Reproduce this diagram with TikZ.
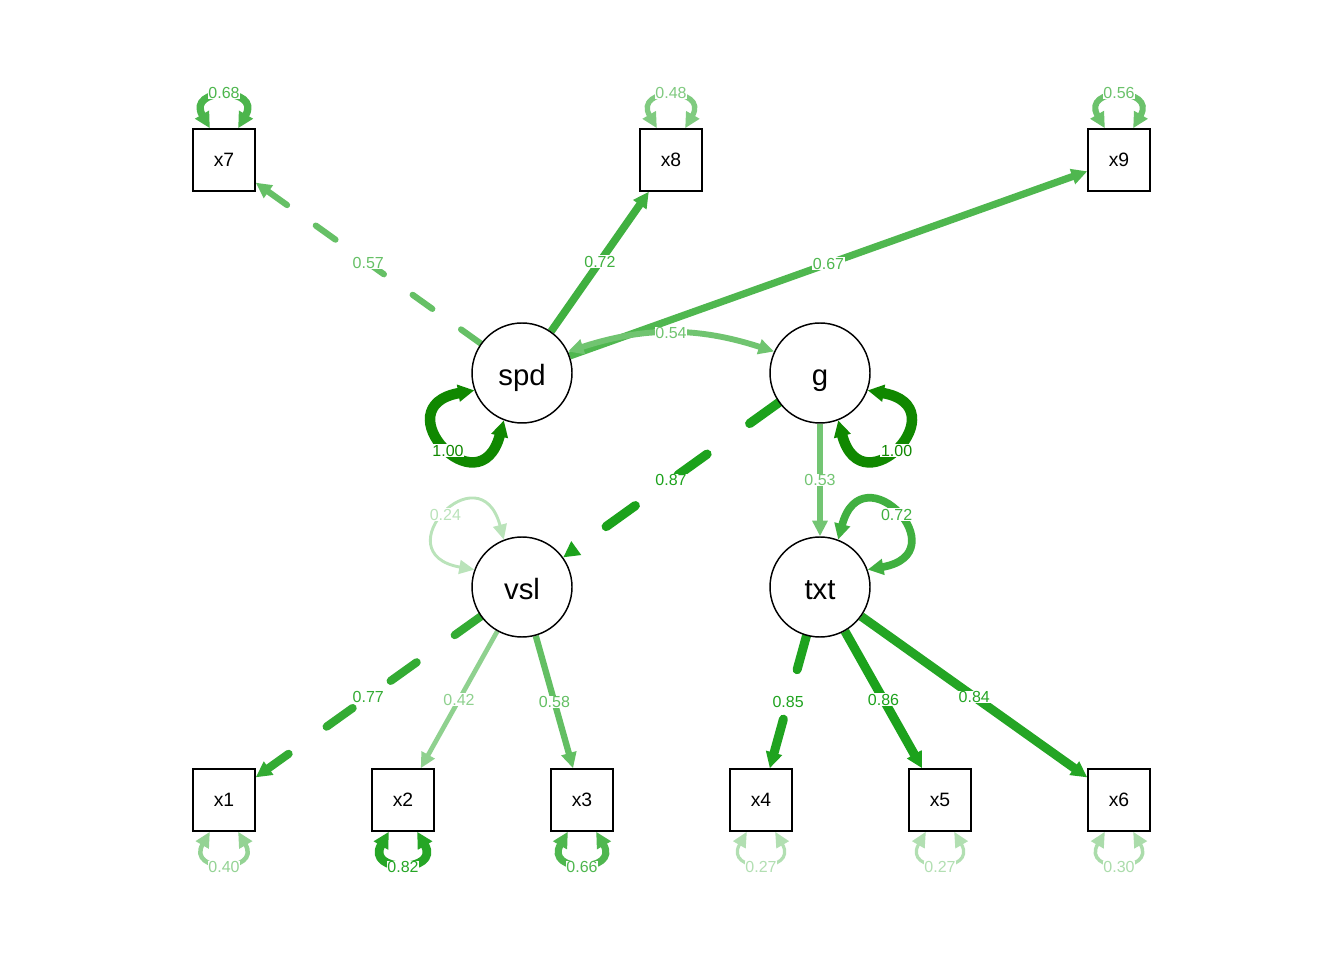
\documentclass[tikz,border=0pt]{standalone}
\usepackage{fontspec}
\setmainfont{Liberation Sans}
\usetikzlibrary{arrows.meta,backgrounds}
\definecolor{pg}{RGB}{0,150,0}
\definecolor{pgd}{RGB}{16,136,0}
\begin{document}
\begin{tikzpicture}[
  x=0.75pt, y=0.75pt,
  latent/.style = {shape=circle, draw, line width=1.1pt, fill=white, minimum size=75pt,
    inner sep=0pt, text height=19.5pt, text depth=0pt, font=\fontsize{22}{24}\selectfont},
  manifest/.style = {shape=rectangle, draw, line width=1.1pt, fill=white, minimum size=46.5pt,
    inner sep=0pt, font=\fontsize{14.5}{16}\selectfont},
  lab/.style = {fill=white, inner sep=0.5pt, font=\fontsize{12}{12}\selectfont},
  wt/.code = {%
    \pgfmathtruncatemacro\wpct{min(100,100*#1+3)}%
    \pgfmathsetlengthmacro\wlw{(0.5+10*#1)*0.75pt}%
    \pgfmathsetlengthmacro\won{3.9*\wlw}%
    \pgfmathsetlengthmacro\woff{5.7*\wlw}%
    \edef\semstyle{\noexpand\tikzset{line width=\wlw, color=pg!\wpct!white}}\semstyle},
  dsh/.code = {\edef\semdash{\noexpand\tikzset{line cap=round,
    dash pattern=on \won\space off \woff}}\semdash},
  >={Triangle[length=11pt 0.15, width=9.5pt 0.35]}
]
  \useasboundingbox (0,0) rectangle (1344,960);

  % latent variables
  \node[latent] (spd) at (522,587) {spd};
  \node[latent] (g)   at (820,587) {g};
  \node[latent] (vsl) at (522,373) {vsl};
  \node[latent] (txt) at (820,373) {txt};

  % indicators
  \node[manifest] (x7) at (224,800)  {x7};
  \node[manifest] (x8) at (671,800)  {x8};
  \node[manifest] (x9) at (1119,800) {x9};
  \node[manifest] (x1) at (224,160)  {x1};
  \node[manifest] (x2) at (403,160)  {x2};
  \node[manifest] (x3) at (582,160)  {x3};
  \node[manifest] (x4) at (761,160)  {x4};
  \node[manifest] (x5) at (940,160)  {x5};
  \node[manifest] (x6) at (1119,160) {x6};

  \begin{scope}[on background layer]
    % loadings
    \draw[->, wt=0.57, dsh] (spd) -- node[lab] {0.57} (x7);
    \draw[->, wt=0.72] (spd) -- node[lab] {0.72} (x8);
    \draw[->, wt=0.67] (spd) -- node[lab] {0.67} (x9);
    \draw[<->, wt=0.54] (spd.25) to[bend left=18] node[lab] {0.54} (g.155);
    \draw[->, wt=0.87, dsh] (g) -- node[lab] {0.87} (vsl);
    \draw[->, wt=0.53] (g) -- node[lab] {0.53} (txt);
    \draw[->, wt=0.77, dsh] (vsl) -- node[lab] {0.77} (x1);
    \draw[->, wt=0.42] (vsl) -- node[lab] {0.42} (x2);
    \draw[->, wt=0.58] (vsl) -- node[lab] {0.58} (x3);
    \draw[->, wt=0.85, dsh] (txt) -- node[lab] {0.85} (x4);
    \draw[->, wt=0.86] (txt) -- node[lab] {0.86} (x5);
    \draw[->, wt=0.84] (txt) -- node[lab] {0.84} (x6);

    % latent variances
    \draw[<->, wt=1.00, color=pgd] (spd.200) to[out=190, in=255, looseness=5.7]
      node[lab, xshift=2pt, yshift=-4pt] {1.00} (spd.249);
    \draw[<->, wt=1.00, color=pgd] (g.340) to[out=350, in=285, looseness=5.7]
      node[lab, yshift=-4pt] {1.00} (g.291);
    \draw[<->, wt=0.24] (vsl.160) to[out=170, in=105, looseness=5.7] node[lab] {0.24} (vsl.111);
    \draw[<->, wt=0.72] (txt.20) to[out=10, in=75, looseness=5.7] node[lab] {0.72} (txt.69);

    % residual variances
    \draw[<->, wt=0.68] (x7.114) to[out=120, in=60, looseness=4.35] node[lab, yshift=3pt] {0.68} (x7.66);
    \draw[<->, wt=0.48] (x8.114) to[out=120, in=60, looseness=4.35] node[lab, yshift=3pt] {0.48} (x8.66);
    \draw[<->, wt=0.56] (x9.114) to[out=120, in=60, looseness=4.35] node[lab, yshift=3pt] {0.56} (x9.66);
    \draw[<->, wt=0.40] (x1.246) to[out=240, in=300, looseness=4.35] node[lab, yshift=-3pt] {0.40} (x1.294);
    \draw[<->, wt=0.82] (x2.246) to[out=240, in=300, looseness=4.35] node[lab, yshift=-3pt] {0.82} (x2.294);
    \draw[<->, wt=0.66] (x3.246) to[out=240, in=300, looseness=4.35] node[lab, yshift=-3pt] {0.66} (x3.294);
    \draw[<->, wt=0.27] (x4.246) to[out=240, in=300, looseness=4.35] node[lab, yshift=-3pt] {0.27} (x4.294);
    \draw[<->, wt=0.27] (x5.246) to[out=240, in=300, looseness=4.35] node[lab, yshift=-3pt] {0.27} (x5.294);
    \draw[<->, wt=0.30] (x6.246) to[out=240, in=300, looseness=4.35] node[lab, yshift=-3pt] {0.30} (x6.294);
  \end{scope}
\end{tikzpicture}
\end{document}
